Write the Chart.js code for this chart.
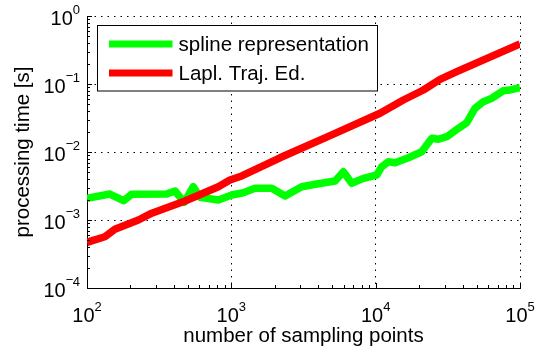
<!DOCTYPE html>
<html><head><meta charset="utf-8">
<script src="https://cdn.jsdelivr.net/npm/chart.js@4/dist/chart.umd.min.js"></script>
<style>html,body{margin:0;padding:0;background:#fff}#wrap{width:546px;height:356px}</style>
</head><body><div id="wrap"><canvas id="c" width="546" height="356"></canvas></div>
<script>
// ---- data ----
const xTickValues = [100, 1000, 10000, 100000];
const yTickValues = [1e-4, 1e-3, 1e-2, 1e-1, 1];
const seriesNames = ['spline representation', 'Lapl. Traj. Ed.'];
const xTitle = 'number of sampling points';
const yTitle = 'processing time [s]';

const splineX = [100,144,179,204,357,407,472,545,607,813,1006,1211,1460,1905,2356,3074,3909,5233,5975,6828,8218,10180,11020,12250,13620,16850,20850,24470,27210,31120,37440,42780,48840,55750,63770,76770,85370,100000];
const splineY = [2.08e-3,2.41e-3,1.92e-3,2.39e-3,2.41e-3,2.67e-3,1.82e-3,3.09e-3,2.16e-3,1.97e-3,2.33e-3,2.52e-3,2.92e-3,2.92e-3,2.25e-3,3.09e-3,3.38e-3,3.75e-3,5.13e-3,3.47e-3,4.10e-3,4.59e-3,6.08e-3,7.20e-3,6.96e-3,8.24e-3,1.01e-2,1.59e-2,1.54e-2,1.68e-2,2.23e-2,2.70e-2,4.40e-2,5.50e-2,6.17e-2,7.98e-2,8.17e-2,8.83e-2];

const laplX = [100,133,156,227,281,478,813,978,1181,2173,4831,10720,15560,21420,27940,36470,100000];
const laplY = [4.70e-4,5.68e-4,7.30e-4,1.0e-3,1.26e-3,1.90e-3,3.09e-3,3.87e-3,4.44e-3,8.22e-3,1.74e-2,3.71e-2,5.82e-2,8.16e-2,0.117,0.152,0.388];

const seriesColors = ['#00ff00', '#ff0000'];
const FONT = "'Liberation Sans', Arial, Helvetica, sans-serif";

const toPts = (xs, ys) => xs.map((x, i) => ({x: x, y: ys[i]}));

const decor = {
  id: 'decor',
  afterDraw(chart) {
    const ctx = chart.ctx, ca = chart.chartArea, sx = chart.scales.x, sy = chart.scales.y;
    ctx.save();
    ctx.strokeStyle = '#000'; ctx.lineWidth = 1;
    ctx.beginPath();
    for (let i = 0; i < yTickValues.length; i++) {
      const d = yTickValues[i];
      const kmax = i < yTickValues.length - 1 ? 9 : 1;
      for (let k = 1; k <= kmax; k++) {
        const py = Math.round(sy.getPixelForValue(k * d)) + 0.5;
        const len = k === 1 ? 5 : 3;
        ctx.moveTo(ca.left, py); ctx.lineTo(ca.left + len, py);
      }
    }
    for (let i = 0; i < xTickValues.length; i++) {
      const d = xTickValues[i];
      const kmax = i < xTickValues.length - 1 ? 9 : 1;
      for (let k = 1; k <= kmax; k++) {
        const px = Math.round(sx.getPixelForValue(k * d)) + 0.5;
        const len = k === 1 ? 5 : 3;
        ctx.moveTo(px, ca.bottom); ctx.lineTo(px, ca.bottom - len);
      }
    }
    ctx.stroke();

    // tick labels 10^n
    ctx.fillStyle = '#000'; ctx.textBaseline = 'alphabetic'; ctx.textAlign = 'left';
    const baseFont = '20px ' + FONT, expFont = '13px ' + FONT;
    const expParts = (v) => {
      const e = Math.round(Math.log10(v));
      return e < 0 ? {minus: true, digits: String(-e)} : {minus: false, digits: String(e)};
    };
    const drawExp = (p, x, baseline) => {
      ctx.font = expFont;
      let cx = x;
      if (p.minus) { ctx.fillText('\u2212', cx, baseline - 1.5); cx += ctx.measureText('\u2212').width - 0.5; }
      ctx.fillText(p.digits, cx, baseline);
    };
    const expWidth = (p) => {
      ctx.font = expFont;
      let w = ctx.measureText(p.digits).width;
      if (p.minus) w += ctx.measureText('\u2212').width - 0.5;
      return w;
    };
    for (const v of xTickValues) {
      const px = sx.getPixelForValue(v);
      const p = expParts(v);
      ctx.font = baseFont; const w1 = ctx.measureText('10').width;
      const w2 = expWidth(p);
      const x0 = px - (w1 + w2) / 2;
      ctx.font = baseFont; ctx.fillText('10', x0, ca.bottom + 33.5);
      drawExp(p, x0 + w1, ca.bottom + 23);
    }
    for (const v of yTickValues) {
      const py = sy.getPixelForValue(v);
      const p = expParts(v);
      const right = ca.left - 7;
      const w2 = expWidth(p);
      ctx.font = baseFont; const w1 = ctx.measureText('10').width;
      const x0 = right - w2 - w1;
      ctx.font = baseFont; ctx.fillText('10', x0, py + 8.5);
      drawExp(p, x0 + w1, py - 2.5);
    }

    // legend
    const bx = ca.left + 10.5, by = ca.top + 9.5, bw = 280, bh = 65.5;
    ctx.fillStyle = '#fff'; ctx.fillRect(bx, by, bw, bh);
    ctx.strokeStyle = '#000'; ctx.lineWidth = 1; ctx.strokeRect(bx, by, bw, bh);
    chart.data.datasets.forEach((ds, i) => {
      const ly = ca.top + 28 + i * 29;
      ctx.strokeStyle = ds.borderColor; ctx.lineWidth = 7; ctx.lineCap = 'butt';
      ctx.beginPath(); ctx.moveTo(bx + 11.5, ly); ctx.lineTo(bx + 75, ly); ctx.stroke();
      ctx.fillStyle = '#000'; ctx.font = '20.5px ' + FONT;
      ctx.fillText(ds.label, bx + 81, ly + 7);
    });
    ctx.restore();
  }
};

new Chart(document.getElementById('c'), {
  type: 'line',
  data: {
    datasets: [
      {label: seriesNames[0], data: toPts(splineX, splineY), borderColor: seriesColors[0], backgroundColor: seriesColors[0],
       borderWidth: 7.5, pointRadius: 0, fill: false, tension: 0, order: 2, borderJoinStyle: 'round'},
      {label: seriesNames[1], data: toPts(laplX, laplY), borderColor: seriesColors[1], backgroundColor: seriesColors[1],
       borderWidth: 7.5, pointRadius: 0, fill: false, tension: 0, order: 1, borderJoinStyle: 'round'}
    ]
  },
  options: {
    responsive: false, animation: false, devicePixelRatio: 1,
    layout: {padding: {left: 0, top: 16, right: 26, bottom: 0}},
    plugins: {legend: {display: false}, tooltip: {enabled: false}},
    scales: {
      x: {
        type: 'logarithmic', position: 'bottom', min: 100, max: 100000,
        afterBuildTicks: (s) => { s.ticks = xTickValues.map(v => ({value: v})); },
        afterFit: (s) => { s.height = 68; },
        ticks: {display: false},
        grid: {color: '#000', lineWidth: 1, drawTicks: false},
        border: {display: true, color: '#000', width: 1, dash: [1.5, 5]},
        title: {display: true, text: xTitle, color: '#000', font: {size: 20.5, family: FONT}, padding: {top: 0, bottom: 7}}
      },
      y: {
        type: 'logarithmic', position: 'left', min: 1e-4, max: 1,
        afterBuildTicks: (s) => { s.ticks = yTickValues.map(v => ({value: v})); },
        afterFit: (s) => { s.width = 87; },
        ticks: {display: false},
        grid: {color: '#000', lineWidth: 1, drawTicks: false},
        border: {display: true, color: '#000', width: 1, dash: [1.5, 5]},
        title: {display: true, text: yTitle, color: '#000', font: {size: 20.5, family: FONT}, padding: {top: 11, bottom: 0}}
      }
    }
  },
  plugins: [decor]
});
</script>
</body></html>
